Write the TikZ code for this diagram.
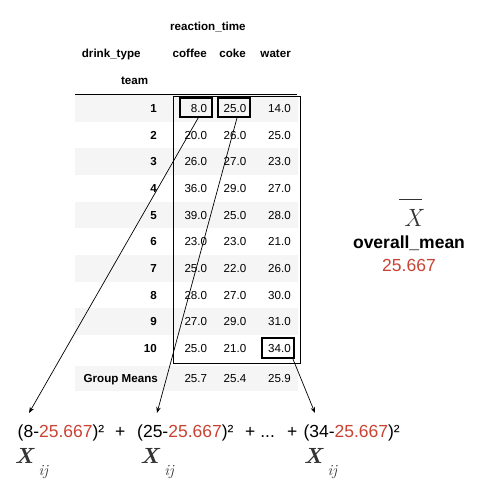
\documentclass[tikz,border=0pt]{standalone}
\usepackage{fontspec}
\setmainfont{Liberation Sans}
\newfontfamily\lmfont{Latin Modern Roman}
\usetikzlibrary{arrows.meta}

\definecolor{vermelho}{RGB}{201,66,50}
\definecolor{cinza}{HTML}{333333}
\definecolor{listra}{HTML}{F5F5F5}

\tikzset{
  tab/.style={font=\fontsize{11.6}{13}\selectfont, inner sep=0pt, text height=8.3pt, text depth=0pt},
  tabb/.style={tab, font=\fontsize{11.6}{13}\selectfont\bfseries},
  caixa/.style={draw, line width=1.8pt, minimum width=32pt, minimum height=19pt, inner sep=0pt},
  seta/.style={-{Stealth[length=6pt,width=4.5pt]}, line width=0.7pt},
  formula/.style={font=\fontsize{17.5}{20}\selectfont, inner sep=0pt, anchor=base west},
  xij/.style={font=\lmfont\fontsize{22}{26}\selectfont\bfseries\itshape, text=cinza, inner sep=0pt, anchor=base west},
  ind/.style={font=\lmfont\fontsize{15.5}{18}\selectfont\itshape, text=cinza, inner sep=0pt, anchor=base west}
}

\begin{document}
\begin{tikzpicture}[x=1pt, y=-1pt]
\useasboundingbox (0,0) rectangle (479,498);

% Listras das linhas da tabela
\foreach \i [evaluate=\i as \y using 108.3+(\i-1)*26.65] in {1,3,5,7,9}
  \fill[listra] (75,\y-13.3) rectangle (298,\y+13.3);
\fill[listra] (75,365.5) rectangle (298,391);

% Cabecalho
\node[tabb, anchor=west] (reacao) at (170,26.7) {reaction\_time};
\node[tabb, anchor=west] (bebida) at (81.7,53.3) {drink\_type};
\node[tabb, anchor=east] (hcafe) at (207,53.3) {coffee};
\node[tabb, anchor=east] (hcoca) at (246,53.3) {coke};
\node[tabb, anchor=east] (hagua) at (291,53.3) {water};
\node[tabb, anchor=east] (equipe) at (148.3,80) {team};
\draw[line width=0.8pt] (75,94) -- (297,94);

% Linhas da tabela
\foreach \i/\a/\b/\c [evaluate=\i as \y using 108.3+(\i-1)*26.65] in
  {1/8.0/25.0/14.0, 2/20.0/26.0/25.0, 3/26.0/27.0/23.0, 4/36.0/29.0/27.0,
   5/39.0/25.0/28.0, 6/23.0/23.0/21.0, 7/25.0/22.0/26.0, 8/28.0/27.0/30.0,
   9/27.0/29.0/31.0, 10/25.0/21.0/34.0} {
  \node[tabb, anchor=east] (r\i) at (157,\y) {\i};
  \node[tab, anchor=east] (cafe\i) at (207.3,\y) {\a};
  \node[tab, anchor=east] (coca\i) at (246.5,\y) {\b};
  \node[tab, anchor=east] (agua\i) at (291,\y) {\c};
}

% Medias dos grupos
\node[tabb, anchor=east] (medias) at (158,378) {Group Means};
\node[tab, anchor=east] (mcafe) at (207.3,378) {25.7};
\node[tab, anchor=east] (mcoca) at (246.5,378) {25.4};
\node[tab, anchor=east] (magua) at (291,378) {25.9};

% Retangulo dos dados e caixas destacadas
\draw[line width=0.8pt] (173.5,96.5) rectangle (300,363);
\node[caixa] (b1) at (196.2,107.5) {};
\node[caixa] (b2) at (234,107.5) {};
\node[caixa, minimum height=20pt] (b3) at (278,348) {};

% Media geral
\node[font=\lmfont\fontsize{25}{28}\selectfont\itshape, text=cinza, inner sep=0pt, anchor=base] (xbarra) at (413,226.7) {X};
\draw[cinza, line width=0.9pt] (399,199.3) -- (422,199.3);
\node[font=\fontsize{17.5}{20}\selectfont\bfseries, inner sep=0pt] (geral) at (409,243) {overall\_mean};
\node[font=\fontsize{17.5}{20}\selectfont, text=vermelho, inner sep=0pt] (valor) at (409,265) {25.667};

% Soma dos quadrados
\node[formula] (t1) at (17.5,437) {(8-\textcolor{vermelho}{25.667})²};
\node[formula] (mais1) at (115,437) {+};
\node[formula] (t2) at (137,437) {(25-\textcolor{vermelho}{25.667})²};
\node[formula] (mais2) at (245,437) {+ ...};
\node[formula] (mais3) at (287,437) {+};
\node[formula] (t3) at (303.3,437) {(34-\textcolor{vermelho}{25.667})²};

\node[xij] (x1) at (14.3,463) {X};
\node[ind] (i1) at (38.5,475.6) {ij};
\node[xij] (x2) at (140,463) {X};
\node[ind] (i2) at (164.2,475.6) {ij};
\node[xij] (x3) at (303.3,463) {X};
\node[ind] (i3) at (327.5,475.6) {ij};

% Setas
\coordinate (ponta1) at (29,413);
\coordinate (ponta2) at (157,413);
\coordinate (ponta3) at (315,413);
\draw[seta] ([xshift=2pt]b1.south) -- (ponta1);
\draw[seta] ([xshift=3pt]b2.south) -- (ponta2);
\draw[seta] ([xshift=-2pt]b3.south east) -- (ponta3);

\end{tikzpicture}
\end{document}
